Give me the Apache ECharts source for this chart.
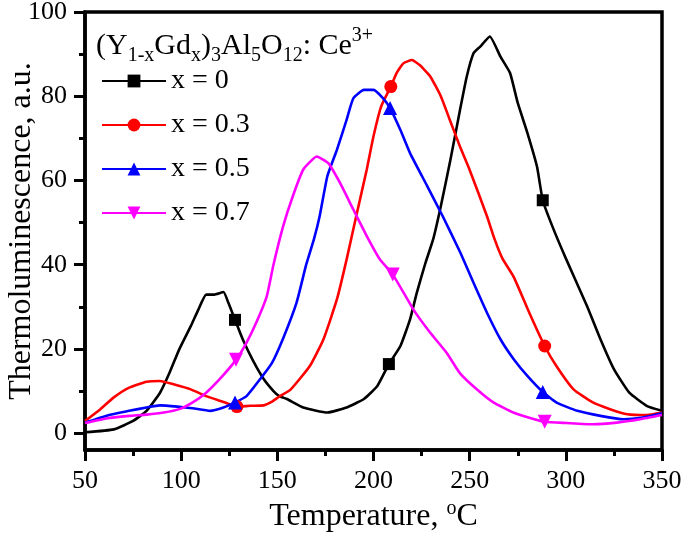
<!DOCTYPE html>
<html>
<head>
<meta charset="utf-8">
<script src="https://cdn.jsdelivr.net/npm/echarts@6/dist/echarts.min.js"></script>
<style>html,body{margin:0;padding:0;background:#fff}#c{width:685px;height:533px}</style>
</head>
<body>
<div id="c"></div>
<script>
// x = 0
const t0 = [50,65,75,82,89,94,99,105,109,113,117,122,124.5,128,132,137.5,143,148,151,155,163.5,176,186,195,202,208,214,219,222.5,227,231,235,240,245,248.5,252,255.5,260.5,266,271,275,280,285,288,293,300,311,318,325,333,342,350];
const v0 = [0.2,0.9,2.9,5.3,9.6,14.4,19.9,25.4,29.4,32.9,32.9,33.5,31,26.9,22.3,17.1,12.8,10,8.8,8.1,6.1,4.9,6.1,8.1,11.2,16.4,20.7,27,33.3,40.4,46,53.9,64.9,76.8,84.7,90.2,91.8,94.2,89.4,85.5,78.4,71.3,63.3,55.3,49.1,41.5,30.2,22.3,15.2,9.6,6.5,5.3];
const m0 = [128,208,288];
// x = 0.3
const t3 = [50,58,65,73,82,89,96,105,113,122,129,136,143,147,151,157,167,174,181,186,191,196.5,200,204,209,212,215.5,220,224,229.5,235,240,245,250,259,263,267,273,281,289,295,304,314,323,332,342,350];
const v3 = [2.9,5.7,8.5,10.8,12.2,12.4,11.6,10.4,8.8,7.4,6.3,6.5,6.6,7.4,8.7,10.4,16,22.3,31.8,41.2,51.5,62.6,70.5,77.6,82.3,85.5,87.8,88.6,87.4,84.7,80,74,68,62.5,51.5,46,41.5,37,28.6,20.7,16,10.4,7.3,5.7,4.5,4.3,4.9];
const m3 = [129,209,289];
// x = 0.5
const t5 = [50,61,73,82,89,98,106,115,122,128,134,141,147,153,160,165,169,172,176,181,186,189.5,195,200,205,208.6,214,219,228,236,245,252,259,266,273,280,288,295,306,318,330,340,350];
const v5 = [2.5,4.1,5.3,6.1,6.6,6.3,5.9,5.3,6.1,7.3,8.8,12.8,16.5,22.5,31,40,46,51.5,61,67.3,74.4,79.5,81.5,81.5,79.5,77.2,72,66.5,58.6,51.5,43,35.7,28.6,22.3,17.5,13.6,9.8,7.3,5.3,4.1,3.3,3.7,4.7];
const m5 = [128,208.6,288];
// x = 0.7
const t7 = [50,61,73,82,91,99,106,113,120,128.5,134,139,144.5,148,153,158,163.5,170.5,176.5,182.6,189.5,196.5,203.4,210,220.7,229.4,238,245,253.7,262.3,272.7,281.4,289,300.5,314,326.5,338.6,350];
const v7 = [2.4,3.5,4.1,4.4,4.9,5.7,7.3,9.6,12.8,17.4,21.5,26.2,32.5,40,49.1,56.2,62.6,65.7,64.1,59.4,53.1,46.8,41.2,37.7,29.4,23.9,19.1,14.2,10.4,7.3,4.9,3.6,2.7,2.4,2.1,2.5,3.3,4.3];
const m7 = [128.5,210,289];

const names = ['x = 0','x = 0.3','x = 0.5','x = 0.7'];
const yTicks = [0,20,40,60,80,100];
const yMinor = [10,30,50,70,90];

const FONT = 'Liberation Serif';
const downTri = 'path://M0,0 L10,0 L5,9 Z';

function build(ts, vs, marks){
  return ts.map((t,i)=> marks.indexOf(t) >= 0 ? {value:[t,vs[i]]} : {value:[t,vs[i]], symbol:'none'});
}
function mk(name, ts, vs, marks, color, symbol, size){
  return {
    name, type:'line', data: build(ts,vs,marks), smooth:0.15,
    symbol, symbolSize:size, showSymbol:true, showAllSymbol:true,
    lineStyle:{color, width:2.6}, itemStyle:{color},
    emphasis:{disabled:true}, z: 3
  };
}
function tickAxis(values, len){
  return {
    type:'value', min:-4, max:100, position:'left',
    axisLine:{show:false},
    axisTick:{show:true, length:len, lineStyle:{color:'#000', width:3}, customValues: values},
    axisLabel:{show:false},
    splitLine:{show:false}
  };
}

const chart = echarts.init(document.getElementById('c'), null, {renderer:'canvas'});
chart.setOption({
  animation:false,
  backgroundColor:'#fff',
  grid:{left:85, right:23, top:12, bottom:83, containLabel:false, outerBoundsMode:'none',
        show:true, borderColor:'#000', borderWidth:3.5, backgroundColor:'transparent'},
  xAxis:{
    type:'value', min:50, max:350, interval:50,
    name:'Temperature, {sup|o}C', nameLocation:'middle', nameGap:44,
    nameTextStyle:{fontFamily:FONT, fontSize:32, color:'#000', lineHeight:36,
      rich:{sup:{fontFamily:FONT, fontSize:20, color:'#000', verticalAlign:'top', lineHeight:36}}},
    axisLine:{show:true, onZero:false, lineStyle:{color:'#000', width:3.5}},
    axisTick:{show:true, length:11, lineStyle:{color:'#000', width:3}},
    minorTick:{show:true, splitNumber:2, length:6, lineStyle:{color:'#000', width:3}},
    axisLabel:{fontFamily:FONT, fontSize:26, color:'#000', margin:18},
    splitLine:{show:false}, minorSplitLine:{show:false}
  },
  yAxis:[{
    type:'value', min:-4, max:100,
    name:'Thermoluminescence, a.u.', nameLocation:'middle', nameGap:47, nameMoveOverlap:false,
    nameTextStyle:{fontFamily:FONT, fontSize:32, color:'#000'},
    axisLine:{show:true, onZero:false, lineStyle:{color:'#000', width:3.5}},
    axisTick:{show:false},
    axisLabel:{fontFamily:FONT, fontSize:26, color:'#000', margin:18, customValues: yTicks},
    splitLine:{show:false}
  }, tickAxis(yTicks, 11), tickAxis(yMinor, 6)],
  legend:{
    orient:'vertical', left:96, top:62, itemWidth:64, itemHeight:16, itemGap:16,
    textStyle:{fontFamily:FONT, fontSize:28, color:'#000', lineHeight:28},
    data: names
  },
  graphic:[{
    type:'text', left:96, top:26, z:10,
    style:{
      text:'(Y{s|1-x}Gd{s|x}){s|3}Al{s|5}O{s|12}: Ce{p|3+}',
      fontFamily:FONT, fontSize:30, fill:'#000',
      rich:{
        s:{fontFamily:FONT, fontSize:20, fill:'#000', verticalAlign:'bottom', lineHeight:40},
        p:{fontFamily:FONT, fontSize:20, fill:'#000', verticalAlign:'top', lineHeight:40}
      }
    }
  }],
  series:[
    mk(names[0], t0, v0, m0, '#000000', 'rect', 12),
    mk(names[1], t3, v3, m3, '#ff0000', 'circle', 13),
    mk(names[2], t5, v5, m5, '#0000ff', 'triangle', 14),
    mk(names[3], t7, v7, m7, '#ff00ff', downTri, 14)
  ]
});
</script>
</body>
</html>
